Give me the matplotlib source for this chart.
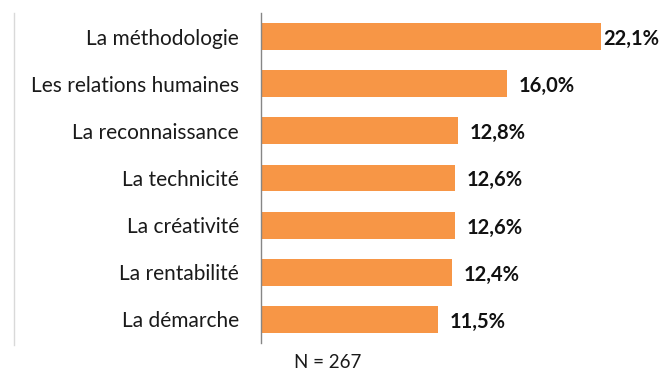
import matplotlib
matplotlib.use("Agg")
import matplotlib.pyplot as plt
from matplotlib.lines import Line2D

# categories top to bottom, share in percent
categories = ["La méthodologie", "Les relations humaines", "La reconnaissance",
              "La technicité", "La créativité", "La rentabilité", "La démarche"]
values = [22.1, 16.0, 12.8, 12.6, 12.6, 12.4, 11.5]
value_labels = ["22,1%", "16,0%", "12,8%", "12,6%", "12,6%", "12,4%", "11,5%"]
note = "N = 267"

plt.rcParams["font.family"] = ["Lato", "DejaVu Sans"]

W, H = 664, 370
fig = plt.figure(figsize=(W / 100, H / 100), dpi=100)
# axes in pixel terms: left 261, right 661, top 13, bottom 343
ax = fig.add_axes([261 / W, (H - 343) / H, 400 / W, 330 / H])

pos = list(range(len(categories)))
ax.barh(pos, values, height=0.57, color="#F79646", zorder=2)
ax.set_ylim(len(categories) - 0.5, -0.5)
ax.set_xlim(0, 400 / 15.4)

ax.set_yticks(pos)
ax.set_yticklabels(categories, fontsize=15, color="#1a1a1a")
ax.tick_params(axis="y", length=0, pad=16)
ax.set_xticks([])

for s in ["top", "right", "bottom"]:
    ax.spines[s].set_visible(False)
ax.spines["left"].set_color("#868686")
ax.spines["left"].set_linewidth(1.0)

# value labels; the longest one sits right against its bar end
for i, (v, lab) in enumerate(zip(values, value_labels)):
    x = v + 0.1 if v > 20 else v + 0.75
    ax.text(x, i + 0.05, lab, va="center", ha="left", fontsize=14.5,
            fontweight="bold", color="#111111")

# faint chart border on the left
fig.add_artist(Line2D([13.5 / W, 13.5 / W], [(H - 345) / H, (H - 13) / H],
                      color="#d9d9d9", linewidth=1.0))

fig.text(328 / W, 1 - 362 / H, note, ha="center", va="center",
         fontsize=13.5, color="#1a1a1a")

fig.savefig("out.png", dpi=100)
